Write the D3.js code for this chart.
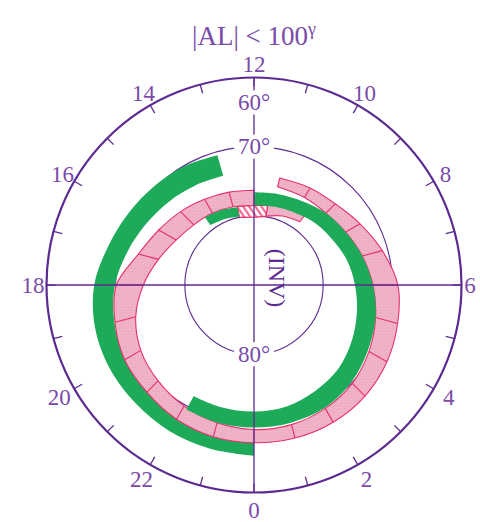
<!DOCTYPE html>
<html><head><meta charset="utf-8">
<script src="https://cdn.jsdelivr.net/npm/d3@7"></script>
<style>body{margin:0;background:#fff}</style>
</head><body>
<svg id="c" width="480" height="522"></svg>
<script>
// ---- data ----
const titleText = "|AL| < 100";
const titleSup = "γ";
const hourTicks = d3.range(0, 24);
const hourLabels = [0, 2, 4, 6, 8, 10, 12, 14, 16, 18, 20, 22];
const latCircles = [70, 80];
const latLabels = [60, 70, 80];
const coordLabel = "(INV)";

// outer green band (dusk -> midnight)
const g1Mlt    = [13.05, 14, 15, 16, 17, 18, 19, 20, 21, 22, 23, 24];
const g1LatIn  = [73.6, 73.3, 72.8, 72.1, 71.1, 69.9, 69.1, 68.5, 68.1, 67.6, 67.3, 67.2];
const g1LatOut = [70.5, 70.1, 69.7, 69.1, 68.2, 66.9, 66.2, 65.9, 65.8, 65.6, 65.5, 65.3];

// pink band (spiral, hourly segments)
const pMlt    = [11.1, 10, 9, 8, 7, 6, 5, 4, 3, 2, 1, 0, 23, 22, 21, 20, 19, 18, 17, 16, 15, 14, 13, 12];
const pLatIn  = [75.4, 75.4, 75.3, 74.7, 73.8, 72.8, 71.8, 70.8, 69.9, 69.4, 69.1, 69.1, 69.4, 69.8, 70.4, 71.1, 72.3, 74.0, 75.7, 77.0, 77.7, 78.0, 78.3, 78.5];
const pLatOut = [74.1, 73.8, 73.4, 72.3, 70.8, 69.2, 68.5, 67.8, 67.3, 67.1, 67.1, 67.2, 67.3, 67.6, 68.1, 68.4, 69.2, 70.1, 72.7, 74.1, 75.0, 75.7, 76.1, 76.3];

// pink inner piece (pre-noon)
const p2Mlt    = [11.35, 10.5, 9.6];
const p2LatIn  = [79.9, 79.2, 78.7];
const p2LatOut = [78.3, 77.6, 77.3];

// hatched overlap piece near noon
const hMlt    = [12.8, 12, 11.35];
const hLatIn  = [80.0, 80.2, 79.9];
const hLatOut = [78.4, 78.5, 78.3];

// inner green piece (post-noon)
const g2aMlt    = [14.4, 13.5, 12.8];
const g2aLatIn  = [79.3, 79.6, 79.9];
const g2aLatOut = [77.9, 78.2, 78.5];

// inner green band (noon -> pre-midnight)
const g2Mlt    = [12, 11, 10, 9, 8, 7, 6, 5, 4, 3, 2, 1, 0, 23, 22.1];
const g2LatIn  = [78.5, 78.3, 78.0, 77.4, 76.9, 76.1, 75.4, 74.6, 73.7, 72.8, 72.3, 71.8, 71.7, 71.7, 71.7];
const g2LatOut = [76.6, 76.4, 76.0, 75.3, 74.7, 73.8, 72.8, 71.8, 71.0, 70.1, 69.5, 69.4, 69.4, 69.4, 69.5];

// ---- drawing ----
const cx = 254, cy = 285, R = 207.5;
const purple = "#5c2a90", lpurple = "#7b4ba8";
const green = "#1eab59", pinkFill = "#f1b3c7", pinkLine = "#e6306a";
const font = "'Liberation Serif','Times New Roman',serif";

const svg = d3.select("#c");
const defs = svg.append("defs");
const pat = defs.append("pattern").attr("id", "pinkTex").attr("width", 3).attr("height", 3)
  .attr("patternUnits", "userSpaceOnUse");
pat.append("rect").attr("width", 3).attr("height", 3).attr("fill", pinkFill);
pat.append("circle").attr("cx", 1).attr("cy", 1).attr("r", 0.6).attr("fill", "#e49ab3");
const hp = defs.append("pattern").attr("id", "hatch").attr("width", 5).attr("height", 5)
  .attr("patternUnits", "userSpaceOnUse").attr("patternTransform", "rotate(-35)");
hp.append("rect").attr("width", 5).attr("height", 5).attr("fill", "#fff");
hp.append("rect").attr("width", 2.2).attr("height", 5).attr("fill", "#ee6b93");

const r = d3.scaleLinear().domain([90, 60]).range([0, R]);
const ang = d3.scaleLinear().domain([12, 0]).range([0, Math.PI]); // MLT -> angle (clockwise from top)

function toPts(mlt, lin, lout) {
  let prev = null;
  return mlt.map((m, i) => {
    let a = ang(m);
    if (prev !== null) {
      while (a - prev > Math.PI) a -= 2 * Math.PI;
      while (prev - a > Math.PI) a += 2 * Math.PI;
    }
    prev = a;
    return { a, lin: lin[i], lout: lout[i] };
  });
}
const area = d3.areaRadial().angle(d => d.a)
  .innerRadius(d => r(d.lin)).outerRadius(d => r(d.lout))
  .curve(d3.curveCatmullRom.alpha(0.5));

const g = svg.append("g").attr("transform", `translate(${cx},${cy})`);

// title
const tt = svg.append("text").attr("x", cx).attr("y", 45).attr("text-anchor", "middle")
  .attr("font-family", font).attr("font-size", 27).attr("fill", lpurple).text(titleText);
tt.append("tspan").attr("font-size", 18).attr("dy", -10).text(titleSup);

// latitude circles
g.selectAll("circle.lat").data(latCircles).join("circle").attr("class", "lat")
  .attr("r", d => r(d)).attr("fill", "none").attr("stroke", purple).attr("stroke-width", 1.1);

// bands
function band(mlt, lin, lout, fill, stroke, dividers) {
  const pts = toPts(mlt, lin, lout);
  g.append("path").attr("d", area(pts)).attr("fill", fill)
    .attr("stroke", stroke || "none").attr("stroke-width", 1.1).attr("stroke-linejoin", "round");
  if (dividers) {
    g.selectAll(null).data(pts.slice(1, -1)).join("line")
      .attr("x1", d => d3.pointRadial(d.a, r(d.lin))[0]).attr("y1", d => d3.pointRadial(d.a, r(d.lin))[1])
      .attr("x2", d => d3.pointRadial(d.a, r(d.lout))[0]).attr("y2", d => d3.pointRadial(d.a, r(d.lout))[1])
      .attr("stroke", pinkLine).attr("stroke-width", 1.1);
  }
}
band(g1Mlt, g1LatIn, g1LatOut, green, null, false);
band(pMlt, pLatIn, pLatOut, "url(#pinkTex)", pinkLine, true);
band(p2Mlt, p2LatIn, p2LatOut, "url(#pinkTex)", pinkLine, false);
band(hMlt, hLatIn, hLatOut, "url(#hatch)", pinkLine, false);
band(g2aMlt, g2aLatIn, g2aLatOut, green, null, false);
band(g2Mlt, g2LatIn, g2LatOut, green, null, false);

// outer circle
g.append("circle").attr("r", r(60)).attr("fill", "none").attr("stroke", purple).attr("stroke-width", 2.2);

// ticks
g.selectAll("line.tick").data(hourTicks).join("line").attr("class", "tick")
  .attr("x1", d => d3.pointRadial(ang(d), R)[0]).attr("y1", d => d3.pointRadial(ang(d), R)[1])
  .attr("x2", d => d3.pointRadial(ang(d), R - 9)[0]).attr("y2", d => d3.pointRadial(ang(d), R - 9)[1])
  .attr("stroke", purple).attr("stroke-width", 1.3);

// cross lines
[[0, 12], [6, 18]].forEach(([a, b]) => {
  const p1 = d3.pointRadial(ang(a), R), p2 = d3.pointRadial(ang(b), R);
  g.append("line").attr("x1", p1[0]).attr("y1", p1[1]).attr("x2", p2[0]).attr("y2", p2[1])
    .attr("stroke", purple).attr("stroke-width", 1.3);
});

// hour labels
const labR = d => d === 6 ? 216 : (d >= 20 || d <= 4 ? 225 : 221);
g.selectAll("text.hr").data(hourLabels).join("text").attr("class", "hr")
  .attr("x", d => d3.pointRadial(ang(d), labR(d))[0]).attr("y", d => d3.pointRadial(ang(d), labR(d))[1])
  .attr("text-anchor", "middle").attr("dominant-baseline", "central")
  .attr("font-family", font).attr("font-size", 23).attr("fill", lpurple).text(d => d);

// latitude labels (60/70 at noon side, 80 at midnight side)
const latLabPos = d => d === 80 ? r(d) : -(d === 60 ? r(d) - 25 : r(d));
const lg = g.selectAll("g.ll").data(latLabels).join("g").attr("class", "ll")
  .attr("transform", d => `translate(0,${latLabPos(d)})`);
lg.append("rect").attr("x", -20).attr("y", -12).attr("width", 40).attr("height", 24).attr("fill", "#fff");
lg.append("text").attr("text-anchor", "middle").attr("dominant-baseline", "central")
  .attr("font-family", font).attr("font-size", 23).attr("fill", lpurple).text(d => d + "°");

// coordinate label
g.append("text").attr("transform", "translate(23,-7) rotate(90)")
  .attr("text-anchor", "middle").attr("dominant-baseline", "central")
  .attr("font-family", font).attr("font-size", 24).attr("fill", purple).text(coordLabel);
</script>
</body></html>
